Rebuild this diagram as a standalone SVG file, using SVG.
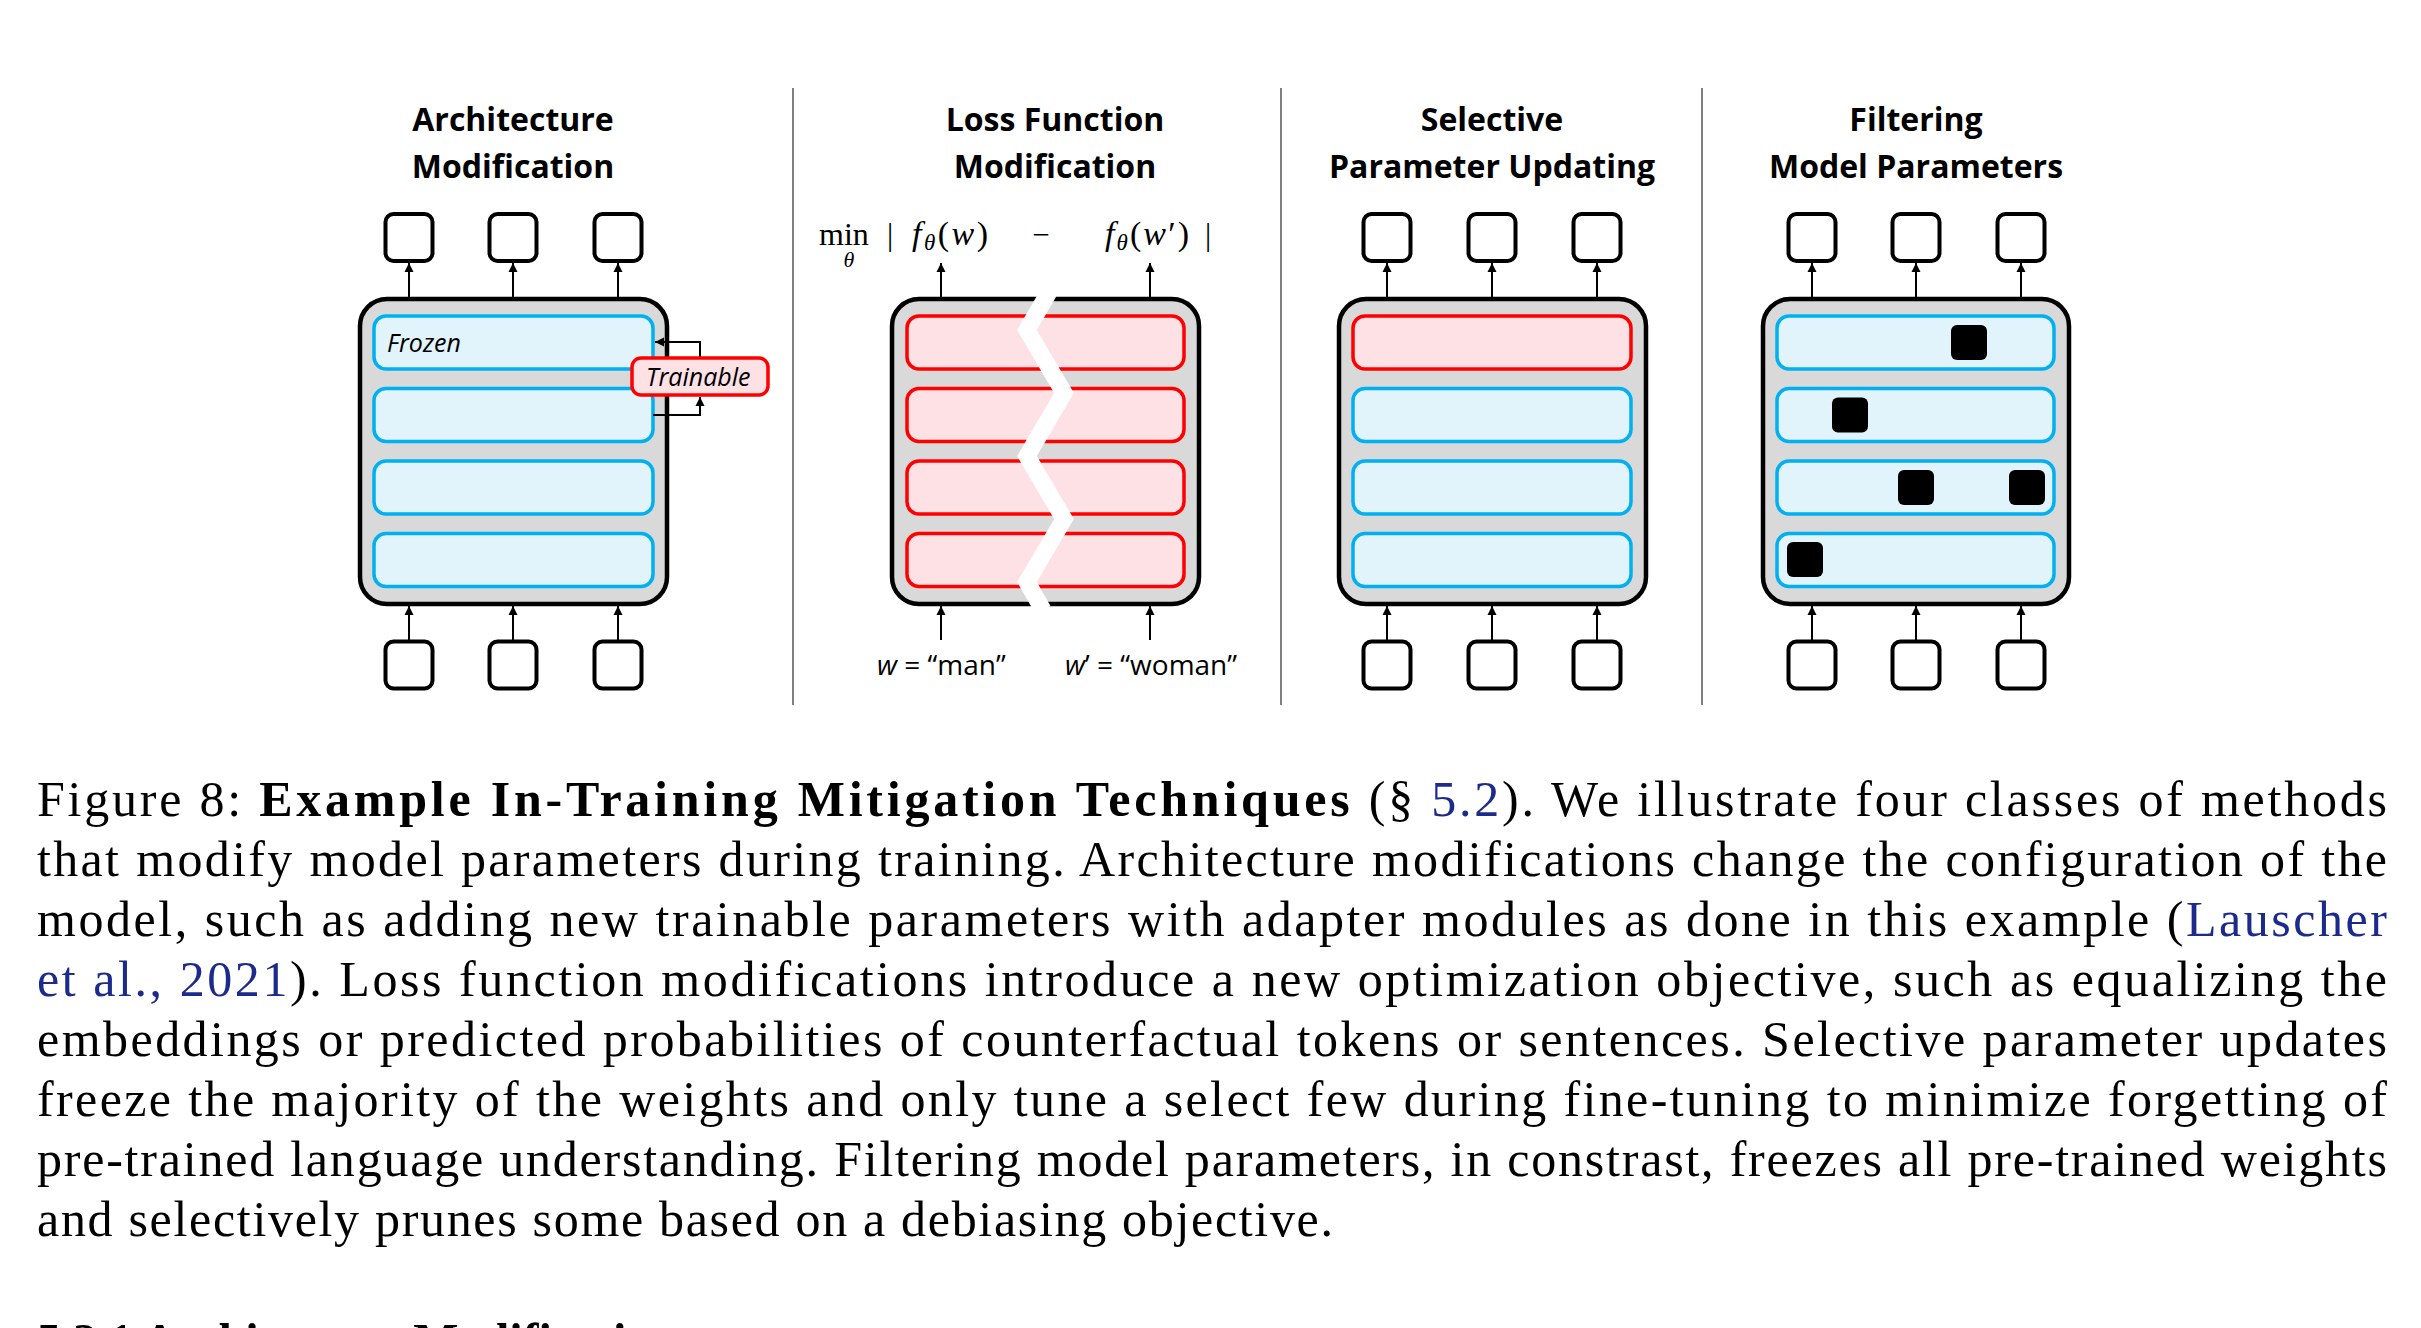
<svg xmlns="http://www.w3.org/2000/svg" width="2421" height="1328" viewBox="0 0 2421 1328">
<style>
  .title { font-family: "Open Sans", "Liberation Sans", sans-serif; font-weight: 700; font-size: 32px; fill: #000; text-anchor: middle; }
  .io { fill: #fff; stroke: #000; stroke-width: 4; }
  .model { fill: #d9d9d9; stroke: #000; stroke-width: 4.5; }
  .frozen { fill: #e1f3fb; stroke: #00b0f0; stroke-width: 3.5; }
  .train { fill: #fde1e4; stroke: #ff0000; stroke-width: 3.5; }
  .pruned { fill: #000; }
  .conn { fill: none; stroke: #000; stroke-width: 2; marker-end: url(#ah); }
  .sep { stroke: #7f7f7f; stroke-width: 2; }
  .lbl { font-family: "Open Sans", "Liberation Sans", sans-serif; font-size: 28px; fill: #000; }
  .tag { font-family: "Open Sans", "Liberation Sans", sans-serif; font-size: 25px; font-style: italic; fill: #000; }
  .math { font-family: "Liberation Serif", "DejaVu Serif", serif; fill: #000; }
  .cap { font-family: "Liberation Serif", "DejaVu Serif", serif; font-size: 50px; fill: #000; }
  .link { fill: #1c2a8c; }
</style>
<defs>
  <marker id="ah" markerUnits="userSpaceOnUse" markerWidth="10" markerHeight="10" refX="9" refY="5" orient="auto">
    <path d="M0,0.5 L9,5 L0,9.5 z" fill="#000"/>
  </marker>
</defs>
<rect width="2421" height="1328" fill="#fff"/>

<!-- separators -->
<g id="separators">
  <line class="sep" x1="793" y1="88" x2="793" y2="705"/>
  <line class="sep" x1="1281" y1="88" x2="1281" y2="705"/>
  <line class="sep" x1="1702" y1="88" x2="1702" y2="705"/>
</g>

<!-- Panel 1: Architecture Modification -->
<g id="panel1">
  <g id="p1-title"><text class="title" x="513" y="131">Architecture</text><text class="title" x="513" y="178">Modification</text></g>
  <g id="p1-out1"><rect class="io" x="385.5" y="214" width="47" height="47" rx="8"/></g>
  <g id="p1-out2"><rect class="io" x="489.5" y="214" width="47" height="47" rx="8"/></g>
  <g id="p1-out3"><rect class="io" x="594.5" y="214" width="47" height="47" rx="8"/></g>
  <g id="p1-model"><rect class="model" x="360" y="299" width="307" height="305" rx="27"/></g>
  <g id="p1-layer1"><rect class="frozen" x="374" y="316" width="279" height="53" rx="12"/><text class="tag" x="387" y="352">Frozen</text></g>
  <g id="p1-layer2"><rect class="frozen" x="374" y="388.5" width="279" height="53" rx="12"/></g>
  <g id="p1-layer3"><rect class="frozen" x="374" y="461" width="279" height="53" rx="12"/></g>
  <g id="p1-layer4"><rect class="frozen" x="374" y="533.5" width="279" height="53" rx="12"/></g>
  <g id="p1-in1"><rect class="io" x="385.5" y="641.5" width="47" height="47" rx="8"/></g>
  <g id="p1-in2"><rect class="io" x="489.5" y="641.5" width="47" height="47" rx="8"/></g>
  <g id="p1-in3"><rect class="io" x="594.5" y="641.5" width="47" height="47" rx="8"/></g>
</g>

<!-- Panel 2: Loss Function Modification -->
<g id="panel2">
  <g id="p2-title"><text class="title" x="1055" y="131">Loss Function</text><text class="title" x="1055" y="178">Modification</text></g>
  <g id="p2-formula">
    <text class="math" x="819" y="245" style="font-size:32px">min</text>
    <text class="math" x="849" y="267" style="font-size:22px;font-style:italic" text-anchor="middle">θ</text>
    <text class="math" x="890" y="245" style="font-size:31px" text-anchor="middle">|</text>
    <text class="math" x="912" y="245" style="font-size:34px" textLength="76" lengthAdjust="spacing"><tspan style="font-style:italic">f</tspan><tspan style="font-style:italic;font-size:23px" dy="5">θ</tspan><tspan dy="-5">(</tspan><tspan style="font-style:italic">w</tspan>)</text>
    <text class="math" x="1041" y="245" style="font-size:31px" text-anchor="middle">−</text>
    <text class="math" x="1105" y="245" style="font-size:34px" textLength="84" lengthAdjust="spacing"><tspan style="font-style:italic">f</tspan><tspan style="font-style:italic;font-size:23px" dy="5">θ</tspan><tspan dy="-5">(</tspan><tspan style="font-style:italic">w</tspan>′)</text>
    <text class="math" x="1208" y="245" style="font-size:31px" text-anchor="middle">|</text>
  </g>
  <g id="p2-model">
    <rect class="model" x="892" y="299" width="307" height="305" rx="27"/>
    <rect class="train" x="907" y="316" width="277" height="53" rx="12"/>
    <rect class="train" x="907" y="388.5" width="277" height="53" rx="12"/>
    <rect class="train" x="907" y="461" width="277" height="53" rx="12"/>
    <rect class="train" x="907" y="533.5" width="277" height="53" rx="12"/>
    <polyline points="1049,292 1027,330 1064,393 1027,456 1064,519 1027,582 1043,610" fill="none" stroke="#fff" stroke-width="17" stroke-linejoin="miter"/>
  </g>
  <g id="p2-in-w"><text class="lbl" x="877" y="675"><tspan style="font-style:italic">w</tspan> = “man”</text></g>
  <g id="p2-in-w2"><text class="lbl" x="1065" y="675"><tspan style="font-style:italic">w</tspan>’ = “woman”</text></g>
</g>

<!-- Panel 3: Selective Parameter Updating -->
<g id="panel3">
  <g id="p3-title"><text class="title" x="1492" y="131">Selective</text><text class="title" x="1492" y="178">Parameter Updating</text></g>
  <g id="p3-out1"><rect class="io" x="1363.5" y="214" width="47" height="47" rx="8"/></g>
  <g id="p3-out2"><rect class="io" x="1468.5" y="214" width="47" height="47" rx="8"/></g>
  <g id="p3-out3"><rect class="io" x="1573.5" y="214" width="47" height="47" rx="8"/></g>
  <g id="p3-model"><rect class="model" x="1339" y="299" width="307" height="305" rx="27"/></g>
  <g id="p3-layer1"><rect class="train" x="1353" y="316" width="278" height="53" rx="12"/></g>
  <g id="p3-layer2"><rect class="frozen" x="1353" y="388.5" width="278" height="53" rx="12"/></g>
  <g id="p3-layer3"><rect class="frozen" x="1353" y="461" width="278" height="53" rx="12"/></g>
  <g id="p3-layer4"><rect class="frozen" x="1353" y="533.5" width="278" height="53" rx="12"/></g>
  <g id="p3-in1"><rect class="io" x="1363.5" y="641.5" width="47" height="47" rx="8"/></g>
  <g id="p3-in2"><rect class="io" x="1468.5" y="641.5" width="47" height="47" rx="8"/></g>
  <g id="p3-in3"><rect class="io" x="1573.5" y="641.5" width="47" height="47" rx="8"/></g>
</g>

<!-- Panel 4: Filtering Model Parameters -->
<g id="panel4">
  <g id="p4-title"><text class="title" x="1916" y="131">Filtering</text><text class="title" x="1916" y="178">Model Parameters</text></g>
  <g id="p4-out1"><rect class="io" x="1788.5" y="214" width="47" height="47" rx="8"/></g>
  <g id="p4-out2"><rect class="io" x="1892.5" y="214" width="47" height="47" rx="8"/></g>
  <g id="p4-out3"><rect class="io" x="1997.5" y="214" width="47" height="47" rx="8"/></g>
  <g id="p4-model"><rect class="model" x="1763" y="299" width="306" height="305" rx="27"/></g>
  <g id="p4-layer1"><rect class="frozen" x="1777" y="316" width="277" height="53" rx="12"/><rect class="pruned" x="1951" y="325" width="36" height="35" rx="6"/></g>
  <g id="p4-layer2"><rect class="frozen" x="1777" y="388.5" width="277" height="53" rx="12"/><rect class="pruned" x="1832" y="397.5" width="36" height="35" rx="6"/></g>
  <g id="p4-layer3"><rect class="frozen" x="1777" y="461" width="277" height="53" rx="12"/><rect class="pruned" x="1898" y="470" width="36" height="35" rx="6"/><rect class="pruned" x="2009" y="470" width="36" height="35" rx="6"/></g>
  <g id="p4-layer4"><rect class="frozen" x="1777" y="533.5" width="277" height="53" rx="12"/><rect class="pruned" x="1787" y="542" width="36" height="35" rx="6"/></g>
  <g id="p4-in1"><rect class="io" x="1788.5" y="641.5" width="47" height="47" rx="8"/></g>
  <g id="p4-in2"><rect class="io" x="1892.5" y="641.5" width="47" height="47" rx="8"/></g>
  <g id="p4-in3"><rect class="io" x="1997.5" y="641.5" width="47" height="47" rx="8"/></g>
</g>

<!-- connectors -->
<g id="connectors">
  <line class="conn" x1="409" y1="297" x2="409" y2="263"/>
  <line class="conn" x1="513" y1="297" x2="513" y2="263"/>
  <line class="conn" x1="618" y1="297" x2="618" y2="263"/>
  <line class="conn" x1="409" y1="640" x2="409" y2="606"/>
  <line class="conn" x1="513" y1="640" x2="513" y2="606"/>
  <line class="conn" x1="618" y1="640" x2="618" y2="606"/>
  <polyline class="conn" points="700,358 700,342 655,342"/>
  <polyline class="conn" points="653,415 700,415 700,397"/>
  <line class="conn" x1="941" y1="297" x2="941" y2="263"/>
  <line class="conn" x1="1150" y1="297" x2="1150" y2="263"/>
  <line class="conn" x1="941" y1="640" x2="941" y2="606"/>
  <line class="conn" x1="1150" y1="640" x2="1150" y2="606"/>
  <line class="conn" x1="1387" y1="297" x2="1387" y2="263"/>
  <line class="conn" x1="1492" y1="297" x2="1492" y2="263"/>
  <line class="conn" x1="1597" y1="297" x2="1597" y2="263"/>
  <line class="conn" x1="1387" y1="640" x2="1387" y2="606"/>
  <line class="conn" x1="1492" y1="640" x2="1492" y2="606"/>
  <line class="conn" x1="1597" y1="640" x2="1597" y2="606"/>
  <line class="conn" x1="1812" y1="297" x2="1812" y2="263"/>
  <line class="conn" x1="1916" y1="297" x2="1916" y2="263"/>
  <line class="conn" x1="2021" y1="297" x2="2021" y2="263"/>
  <line class="conn" x1="1812" y1="640" x2="1812" y2="606"/>
  <line class="conn" x1="1916" y1="640" x2="1916" y2="606"/>
  <line class="conn" x1="2021" y1="640" x2="2021" y2="606"/>
</g>

<!-- Trainable adapter label (on top of model border) -->
<g id="p1-trainable">
  <rect class="train" x="632" y="358" width="136" height="37" rx="9"/>
  <text class="tag" x="646" y="386">Trainable</text>
</g>

<!-- caption -->
<g id="caption">
  <text class="cap" x="37" y="816" textLength="2350" lengthAdjust="spacing">Figure 8: <tspan font-weight="700" letter-spacing="1">Example In-Training Mitigation Techniques</tspan> (§ <tspan class="link">5.2</tspan>). We illustrate four classes of methods</text>
  <text class="cap" x="37" y="876" textLength="2350" lengthAdjust="spacing">that modify model parameters during training. Architecture modifications change the configuration of the</text>
  <text class="cap" x="37" y="936" textLength="2350" lengthAdjust="spacing">model, such as adding new trainable parameters with adapter modules as done in this example (<tspan class="link">Lauscher</tspan></text>
  <text class="cap" x="37" y="996" textLength="2350" lengthAdjust="spacing"><tspan class="link">et al., 2021</tspan>). Loss function modifications introduce a new optimization objective, such as equalizing the</text>
  <text class="cap" x="37" y="1056" textLength="2350" lengthAdjust="spacing">embeddings or predicted probabilities of counterfactual tokens or sentences. Selective parameter updates</text>
  <text class="cap" x="37" y="1116" textLength="2350" lengthAdjust="spacing">freeze the majority of the weights and only tune a select few during fine-tuning to minimize forgetting of</text>
  <text class="cap" x="37" y="1176" textLength="2350" lengthAdjust="spacing">pre-trained language understanding. Filtering model parameters, in constrast, freezes all pre-trained weights</text>
  <text class="cap" x="37" y="1236" textLength="1296" lengthAdjust="spacing">and selectively prunes some based on a debiasing objective.</text>
  <text class="cap" x="37" y="1358" font-weight="700" textLength="640" lengthAdjust="spacingAndGlyphs">5.2.1 Architecture Modification</text>
</g>
</svg>
